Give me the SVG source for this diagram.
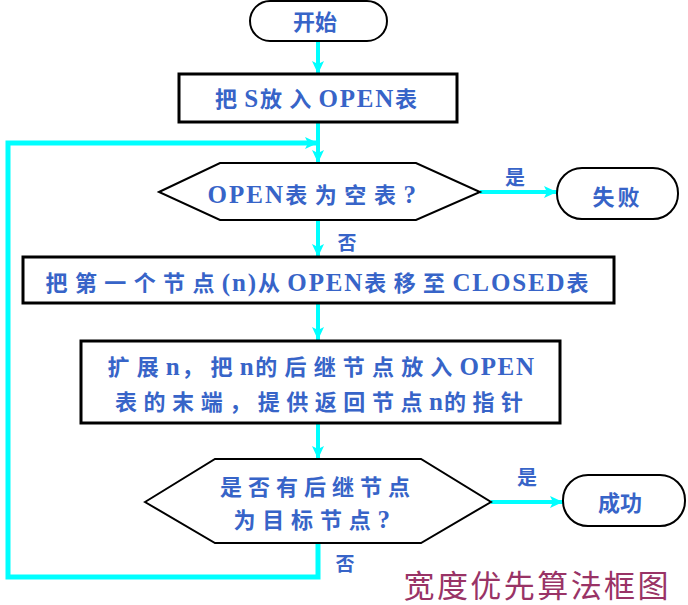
<svg xmlns="http://www.w3.org/2000/svg" width="688" height="605" viewBox="0 0 688 605">
<style>
.t{font-family:"Liberation Serif","Noto Sans CJK SC",serif;font-weight:bold;fill:#3764c8;text-anchor:middle;letter-spacing:6px;}
.lbl{letter-spacing:0px;}
.L{font-size:25px;letter-spacing:0.5px;}
.term{fill:#fff;stroke:#000;stroke-width:2;}
.box{fill:#fff;stroke:#000;stroke-width:3;}
.hex{fill:#fff;stroke:#000;stroke-width:2;}
.c{fill:none;stroke:#00ffff;stroke-width:4;}
.loop{fill:none;stroke:#00ffff;stroke-width:5;}
.cap{font-family:"Noto Sans CJK SC",serif;fill:#993366;font-size:31px;text-anchor:middle;}
</style>
<defs>
<marker id="ah" markerUnits="userSpaceOnUse" markerWidth="14" markerHeight="12" refX="13" refY="6" orient="auto">
<path d="M0,0 L13,6 L0,12 L3,6 z" fill="#00ffff"/>
</marker>
</defs>
<g id="connectors">
<path class="c" d="M318,41 V74" marker-end="url(#ah)"/>
<path class="c" d="M318,122 V163" marker-end="url(#ah)"/>
<path class="loop" d="M318,543 V577 H8 V143 H318" marker-end="url(#ah)"/>
<path class="c" d="M480,192 H557" marker-end="url(#ah)"/>
<path class="c" d="M318,220 V257" marker-end="url(#ah)"/>
<path class="c" d="M318,303 V340" marker-end="url(#ah)"/>
<path class="c" d="M318,423 V459" marker-end="url(#ah)"/>
<path class="c" d="M491,502 H563" marker-end="url(#ah)"/>
<text class="t lbl" x="515" y="185" font-size="20">是</text>
<text class="t lbl" x="347" y="250" font-size="19">否</text>
<text class="t lbl" x="527" y="485" font-size="20">是</text>
<text class="t lbl" x="345" y="571" font-size="19">否</text>
</g>
<g id="start">
<rect class="term" x="250" y="1" width="137" height="40" rx="20"/>
<text class="t" x="318" y="30" font-size="22" textLength="50" lengthAdjust="spacing">开始</text>
</g>
<g id="init">
<rect class="box" x="179" y="74" width="278" height="48"/>
<text class="t" x="319" y="107" font-size="22" textLength="208" lengthAdjust="spacing">把<tspan class="L">S</tspan>放入<tspan class="L">OPEN</tspan>表</text>
</g>
<g id="check-empty">
<polygon class="hex" points="159,192 220,163 416,163 480,192 416,220 220,220"/>
<text class="t" x="312" y="203" font-size="22" textLength="209" lengthAdjust="spacing"><tspan class="L">OPEN</tspan>表为空表<tspan class="L">?</tspan></text>
</g>
<g id="fail">
<rect class="term" x="557" y="168" width="121" height="51" rx="25"/>
<text class="t" x="619" y="205" font-size="22" textLength="53" lengthAdjust="spacing">失败</text>
</g>
<g id="move">
<rect class="box" x="23" y="257" width="591" height="46"/>
<text class="t" x="320" y="291" font-size="22" textLength="549" lengthAdjust="spacing">把第一个节点<tspan class="L">(n)</tspan>从<tspan class="L">OPEN</tspan>表移至<tspan class="L">CLOSED</tspan>表</text>
</g>
<g id="expand">
<rect class="box" x="81" y="341" width="479" height="82"/>
<text class="t" x="321" y="375" font-size="22" textLength="427" lengthAdjust="spacing">扩展<tspan class="L">n</tspan>，把<tspan class="L">n</tspan>的后继节点放入<tspan class="L">OPEN</tspan></text>
<text class="t" x="322" y="410" font-size="22" textLength="414" lengthAdjust="spacing">表的末端，提供返回节点<tspan class="L">n</tspan>的指针</text>
</g>
<g id="check-goal">
<polygon class="hex" points="145,502 215,459 421,459 491,502 421,543 215,543"/>
<text class="t" x="318" y="495" font-size="22" textLength="196" lengthAdjust="spacing">是否有后继节点</text>
<text class="t" x="312" y="528" font-size="22" textLength="157" lengthAdjust="spacing">为目标节点<tspan class="L">?</tspan></text>
</g>
<g id="success">
<rect class="term" x="563" y="475" width="122" height="51" rx="25"/>
<text class="t" x="623" y="511" font-size="22" textLength="50" lengthAdjust="spacing">成功</text>
</g>
<text class="cap" x="536" y="597" textLength="265" lengthAdjust="spacing">宽度优先算法框图</text>
</svg>
